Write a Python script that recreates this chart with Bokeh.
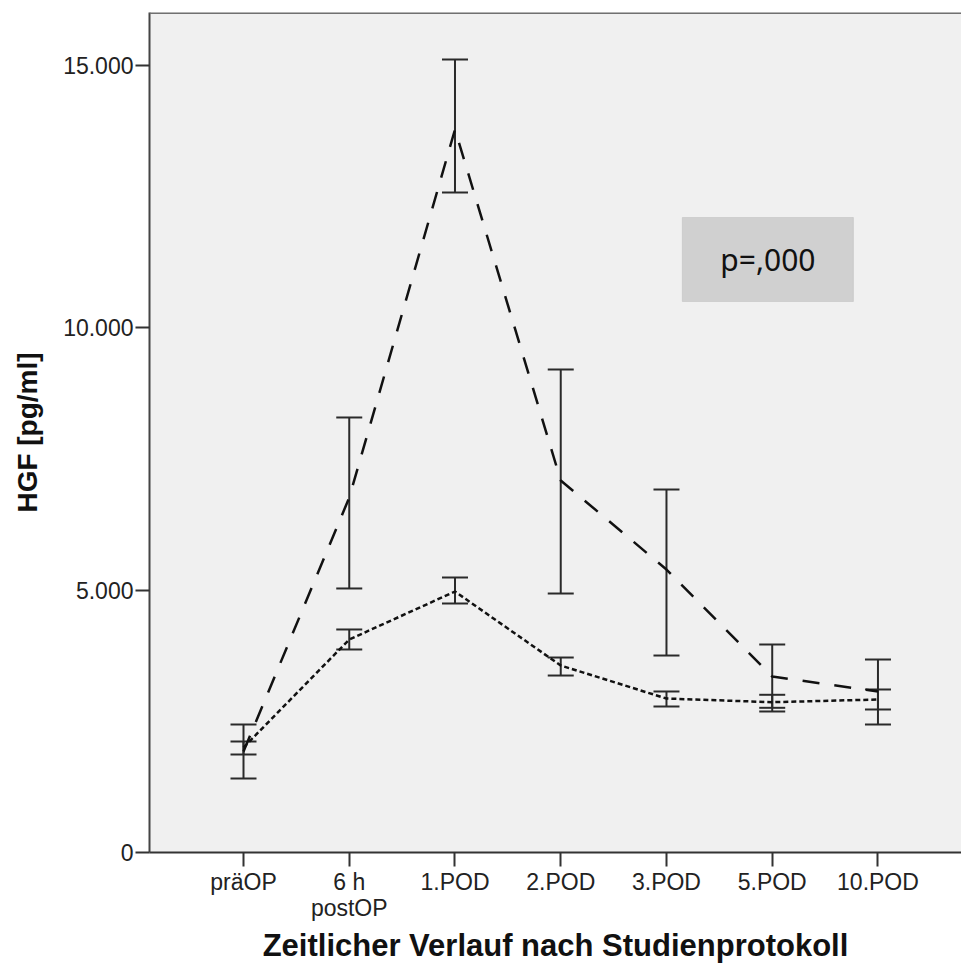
from bokeh.plotting import figure
from bokeh.models import (ColumnDataSource, Whisker, TeeHead, FixedTicker, Span,
                          BoxAnnotation, Label, Range1d)
from bokeh.embed import file_html
from bokeh.resources import INLINE

# ---- data ----
categories = ["präOP", "6 h\npostOP", "1.POD", "2.POD", "3.POD", "5.POD", "10.POD"]

dashed_mean = [1924, 6760, 13772, 7086, 5390, 3352, 3067]
dashed_lower = [1410, 5029, 12571, 4933, 3752, 2686, 2438]
dashed_upper = [2438, 8286, 15105, 9200, 6914, 3962, 3676]

dotted_mean = [2000, 4057, 4971, 3562, 2933, 2863, 2914]
dotted_lower = [1867, 3867, 4743, 3371, 2781, 2756, 2724]
dotted_upper = [2114, 4248, 5238, 3714, 3067, 3004, 3105]

y_ticks = [0, 5000, 10000, 15000]
y_tick_labels = ["0", "5.000", "10.000", "15.000"]

p_text = "p=,000"

xpos = list(range(1, len(categories) + 1))

FONT = "Liberation Sans"

p = figure(width=961, height=967, output_backend="svg", toolbar_location=None,
           x_range=Range1d(0.111, 7.79), y_range=Range1d(0, 16000),
           min_border_left=149, min_border_right=0, min_border_top=12,
           min_border_bottom=115)
p.background_fill_color = "#f0f0f0"
p.border_fill_color = "white"
p.outline_line_color = None
p.grid.visible = False

src_a = ColumnDataSource(dict(x=xpos, mean=dashed_mean, lower=dashed_lower, upper=dashed_upper))
src_b = ColumnDataSource(dict(x=xpos, mean=dotted_mean, lower=dotted_lower, upper=dotted_upper))

p.line("x", "mean", source=src_a, line_color="#111111", line_width=2.5, line_dash="17 15")
p.line("x", "mean", source=src_b, line_color="#111111", line_width=2.5, line_dash="5 3")

for src in (src_a, src_b):
    w = Whisker(base="x", upper="upper", lower="lower", source=src,
                line_color="#2a2a2a", line_width=2,
                upper_head=TeeHead(size=26, line_color="#2a2a2a", line_width=2),
                lower_head=TeeHead(size=26, line_color="#2a2a2a", line_width=2))
    p.add_layout(w)

# top border of the frame
p.add_layout(Span(location=16000, dimension="width", line_color="#707070", line_width=3))

# p-value box
p.add_layout(BoxAnnotation(left=5.150, right=6.768, bottom=10495, top=12095,
                           fill_color="#d0d0d0", fill_alpha=1.0,
                           line_color="#a8a8a8", line_width=1))
p.add_layout(Label(x=5.959, y=11295, text=p_text, text_align="center",
                   text_baseline="middle", text_font="Noto Sans",
                   text_font_size="30px", text_color="#111111"))

# axes
xa = p.xaxis[0]
xa.ticker = FixedTicker(ticks=xpos)
xa.major_label_overrides = {i: c for i, c in zip(xpos, categories)}
xa.minor_tick_line_color = None
xa.major_tick_out = 14
xa.major_tick_in = 0
xa.major_tick_line_width = 2
xa.major_tick_line_color = "#333333"
xa.axis_line_width = 2
xa.axis_line_color = "#333333"
xa.major_label_standoff = 2
xa.major_label_text_font = FONT
xa.major_label_text_font_size = "23px"
xa.major_label_text_color = "#222222"
xa.major_label_text_line_height = 1.0
xa.axis_label = "Zeitlicher Verlauf nach Studienprotokoll"
xa.axis_label_text_font = FONT
xa.axis_label_text_font_style = "bold"
xa.axis_label_text_font_size = "31px"
xa.axis_label_text_color = "#111111"
xa.axis_label_standoff = 4

ya = p.yaxis[0]
ya.ticker = FixedTicker(ticks=y_ticks)
ya.major_label_overrides = {t: l for t, l in zip(y_ticks, y_tick_labels)}
ya.minor_tick_line_color = None
ya.major_tick_out = 14
ya.major_tick_in = 0
ya.major_tick_line_width = 2
ya.major_tick_line_color = "#333333"
ya.axis_line_width = 2
ya.axis_line_color = "#444444"
ya.major_label_standoff = 2
ya.major_label_text_font = FONT
ya.major_label_text_font_size = "23px"
ya.major_label_text_color = "#222222"
ya.axis_label = "HGF [pg/ml]"
ya.axis_label_text_font = FONT
ya.axis_label_text_font_style = "bold"
ya.axis_label_text_font_size = "28px"
ya.axis_label_text_color = "#111111"
ya.axis_label_standoff = 17

open("out.html", "w").write(file_html(p, INLINE))
